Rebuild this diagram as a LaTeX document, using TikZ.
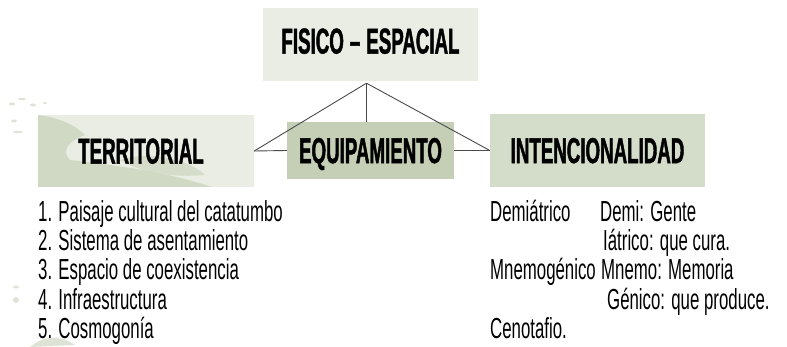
\documentclass[tikz,border=0pt]{standalone}
\usepackage{fontspec}
\setmainfont{Liberation Sans}
\newfontfamily\headfont[FakeStretch=0.52,FakeBold=1.2]{Liberation Sans}
\newfontfamily\listfont[FakeStretch=0.58]{Liberation Sans}
\usetikzlibrary{positioning}
\definecolor{speck}{HTML}{EAEDE4}
\definecolor{mapgreen}{HTML}{D0D9C3}
\definecolor{sage}{HTML}{C4CFB6}
\definecolor{palesage}{HTML}{D4DDCA}
\definecolor{linegray}{HTML}{4A4A4A}
\tikzset{
  box/.style={inner sep=0pt, text depth=0pt, font=\headfont\bfseries\fontsize{36}{36}\selectfont},
  link/.style={draw=linegray, line width=0.9pt},
  item/.style={anchor=base west, inner sep=0pt, font=\listfont\fontsize{29}{29}\selectfont}
}

\begin{document}
\begin{tikzpicture}[x=1pt,y=-1pt]
\useasboundingbox (0,0) rectangle (787,347);
% scattered islands left of the map
\fill[mapgreen!70] (12,104) ellipse (3 and 1.5);
\fill[mapgreen!70] (22,99) ellipse (4 and 1.2);
\fill[mapgreen!70] (33,105) ellipse (3 and 1.5);
\fill[mapgreen!70] (45,103) ellipse (2 and 1);
\fill[mapgreen!70] (14,121) ellipse (3 and 1.5);
\fill[mapgreen!70] (18,132) ellipse (5 and 1.2);
\fill[mapgreen!70] (16,287) ellipse (3 and 1.5);
\fill[mapgreen!70] (16,300) ellipse (3 and 3);
\fill[mapgreen!70] (30,347) .. controls (45,335) and (60,335) .. (75,345) -- cycle;

% boxes
\node[box, fill=speck, text depth=7pt, minimum width=215pt, minimum height=73pt] (fisico) at (370.5,44.5) {FISICO\,–\,ESPACIAL};
\node[box, fill=speck, minimum width=216pt, minimum height=72pt] (terr) at (146,151) {};
\begin{scope}
\clip (terr.south west) rectangle (terr.north east);
\fill[mapgreen] (38,115) .. controls (60,118) and (75,125) .. (85,135)
  .. controls (70,140) and (60,150) .. (70,160)
  .. controls (110,165) and (160,170) .. (212,187)
  -- (38,187) -- cycle;
\fill[mapgreen!80!speck] (120,160) .. controls (150,150) and (190,160) .. (205,175)
  .. controls (170,178) and (140,172) .. (120,160) -- cycle;
\end{scope}
\node[box] (terrtext) at ([xshift=-5pt]terr.center) {TERRITORIAL};
\node[box, fill=sage, minimum width=167pt, minimum height=57pt] (equip) at (370.5,150.5) {EQUIPAMIENTO};
\node[box, fill=palesage, minimum width=215pt, minimum height=73pt] (inten) at (597.5,150.5) {INTENCIONALIDAD};

% connectors
\coordinate (apex) at ([xshift=-4pt,yshift=-2pt]fisico.south);
\draw[link] (apex) -- (terr.east);
\draw[link] (apex) -- (apex |- equip.north);
\draw[link] (apex) -- (inten.west);
\draw[link] (terr.east) -- (equip.west);
\draw[link] (equip.east) -- (inten.west);

% territorial list
\node[item] (t1) at (38,222) {1. Paisaje cultural del catatumbo};
\node[item] (t2) at (38,251) {2. Sistema de asentamiento};
\node[item] (t3) at (38,280) {3. Espacio de coexistencia};
\node[item] (t4) at (38,309) {4. Infraestructura};
\node[item] (t5) at (38,338) {5. Cosmogonía};

% intencionalidad list
\node[item] (demi) at (490,222) {Demiátrico};
\node[item] (demidef) at (600,222) {Demi: Gente};
\node[item] (iatdef) at (603,251) {Iátrico: que cura.};
\node[item] (mnemo) at (490,280) {Mnemogénico};
\node[item] (mnemodef) at (601,280) {Mnemo: Memoria};
\node[item] (genidef) at (607,309) {Génico: que produce.};
\node[item] (ceno) at (490,338) {Cenotafio.};
\end{tikzpicture}
\end{document}
